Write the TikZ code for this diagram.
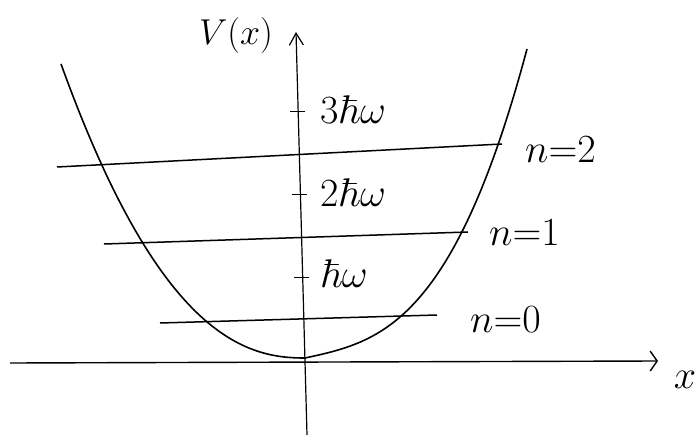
\RequirePackage{fix-cm}
\documentclass[tikz,border=0pt]{standalone}
\usepackage{amsmath,amssymb}
\usetikzlibrary{arrows.meta,positioning}

\begin{document}
\begin{tikzpicture}[
x=1pt, y=-1pt,
xaxis/.style={line width=1.4pt, -{Straight Barb[length=7pt,width=20pt]}},
yaxis/.style={line width=1.2pt, -{Straight Barb[length=12pt,width=14pt]}},
pot/.style={line width=1.6pt, line join=round},
level/.style={line width=1.5pt},
tickmark/.style={line width=1pt},
lbl/.style={font=\fontsize{40}{42}\selectfont, inner sep=1pt},
]
\useasboundingbox (0,0) rectangle (698,435);
% axes
\coordinate (xl) at (10,363);
\coordinate (xr) at (658,361);
\coordinate (yb) at (307,435);
\coordinate (yt) at (296,32);
\draw[xaxis] (xl) -- (xr);
\draw[yaxis] (yb) -- (yt);
\node[lbl] (xlab) at (685,380) {$x$};
\node[lbl, font=\fontsize{36}{38}\selectfont] (vlab) at (236,36) {$V(x)$};
% potential
\draw[pot] plot[domain=-244:-0.5, samples=60] ({305+\x},{358-37.8*(-\x/100)^2.3})
  -- plot[domain=0:222, samples=60] ({305+\x},{358-0.216*\x-23.86*(\x/100)^3});
% ticks
\coordinate (t1a) at (294,278); \coordinate (t1b) at (309,278);
\coordinate (t2a) at (292,195); \coordinate (t2b) at (307,195);
\coordinate (t3a) at (290,112); \coordinate (t3b) at (305,112);
\draw[tickmark] (t1a) -- (t1b);
\draw[tickmark] (t2a) -- (t2b);
\draw[tickmark] (t3a) -- (t3b);
\node[lbl, right=10pt of t1b, yshift=4pt] (e1) {$\hbar\omega$};
\node[lbl, right=12pt of t2b, yshift=2pt] (e2) {$2\hbar\omega$};
\node[lbl, right=14pt of t3b, yshift=2pt] (e3) {$3\hbar\omega$};
% levels
\coordinate (a0) at (160,323); \coordinate (b0) at (437,315);
\coordinate (a1) at (104,244); \coordinate (b1) at (468,232);
\coordinate (a2) at (57,167);  \coordinate (b2) at (502,144);
\draw[level] (a0) -- (b0);
\draw[level] (a1) -- (b1);
\draw[level] (a2) -- (b2);
\node[lbl, right=32pt of b0, yshift=-5pt] (n0) {$n{=}0$};
\node[lbl, right=20pt of b1, yshift=-1pt] (n1) {$n{=}1$};
\node[lbl, right=22pt of b2, yshift=-6pt] (n2) {$n{=}2$};
\end{tikzpicture}
\end{document}
